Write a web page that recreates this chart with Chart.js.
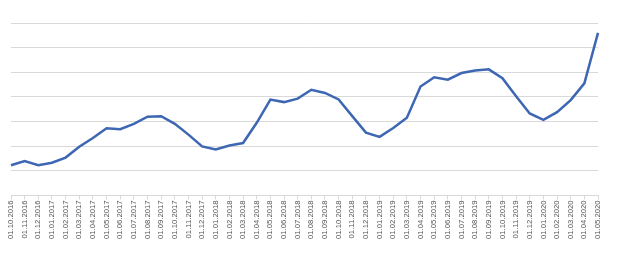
<!DOCTYPE html>
<html>
<head>
<meta charset="utf-8">
<script src="https://cdn.jsdelivr.net/npm/chart.js@4"></script>
<style>
  html, body { margin: 0; padding: 0; background: #fff; }
  #wrap { width: 624px; height: 268px; }
</style>
</head>
<body>
<div id="wrap"><canvas id="chart"></canvas></div>
<script>
// monthly dates, 01.10.2016 .. 01.05.2020
const labels = [
  '01.10.2016', '01.11.2016', '01.12.2016',
  '01.01.2017', '01.02.2017', '01.03.2017', '01.04.2017', '01.05.2017', '01.06.2017',
  '01.07.2017', '01.08.2017', '01.09.2017', '01.10.2017', '01.11.2017', '01.12.2017',
  '01.01.2018', '01.02.2018', '01.03.2018', '01.04.2018', '01.05.2018', '01.06.2018',
  '01.07.2018', '01.08.2018', '01.09.2018', '01.10.2018', '01.11.2018', '01.12.2018',
  '01.01.2019', '01.02.2019', '01.03.2019', '01.04.2019', '01.05.2019', '01.06.2019',
  '01.07.2019', '01.08.2019', '01.09.2019', '01.10.2019', '01.11.2019', '01.12.2019',
  '01.01.2020', '01.02.2020', '01.03.2020', '01.04.2020', '01.05.2020'
];

// values (no units shown)
const values = [
  1.23, 1.40, 1.23,
  1.33, 1.54, 1.98, 2.33, 2.73, 2.69,
  2.91, 3.20, 3.22, 2.91, 2.47, 1.99,
  1.87, 2.03, 2.13, 2.95, 3.89, 3.79,
  3.93, 4.29, 4.16, 3.90, 3.22, 2.55,
  2.38, 2.74, 3.16, 4.42, 4.80, 4.70,
  4.97, 5.07, 5.12, 4.76, 4.03, 3.33,
  3.07, 3.38, 3.87, 4.55, 6.60
];

const yMin = 0;
const yMax = 7;

const ctx = document.getElementById('chart').getContext('2d');
new Chart(ctx, {
    type: 'line',
    data: {
        labels: labels,
        datasets: [{
            data: values,
            borderColor: '#3d66b3',
            borderWidth: 2.5,
            pointRadius: 0,
            tension: 0,
            fill: false
        }]
    },
    options: {
        responsive: true,
        maintainAspectRatio: false,
        animation: false,
        layout: { padding: { left: 11, right: 26, top: 23, bottom: 0 } },
        plugins: {
            legend: { display: false },
            tooltip: { enabled: false }
        },
        scales: {
            x: {
                offset: false,
                afterFit: function(scale) { scale.height = 72.5; },
                grid: {
                    drawOnChartArea: false,
                    color: '#d9d9d9',
                    tickLength: 4
                },
                border: { color: '#d9d9d9', width: 1 },
                ticks: {
                    autoSkip: false,
                    minRotation: 90,
                    maxRotation: 90,
                    padding: 1,
                    color: '#555555',
                    font: { family: 'Liberation Sans', size: 7.7 }
                }
            },
            y: {
                min: yMin,
                max: yMax,
                afterFit: function(scale) { scale.width = 0; },
                grid: {
                    color: '#d9d9d9',
                    lineWidth: 1,
                    drawTicks: false
                },
                border: { display: false },
                ticks: { display: false, stepSize: 1 }
            }
        }
    }
});
</script>
</body>
</html>
